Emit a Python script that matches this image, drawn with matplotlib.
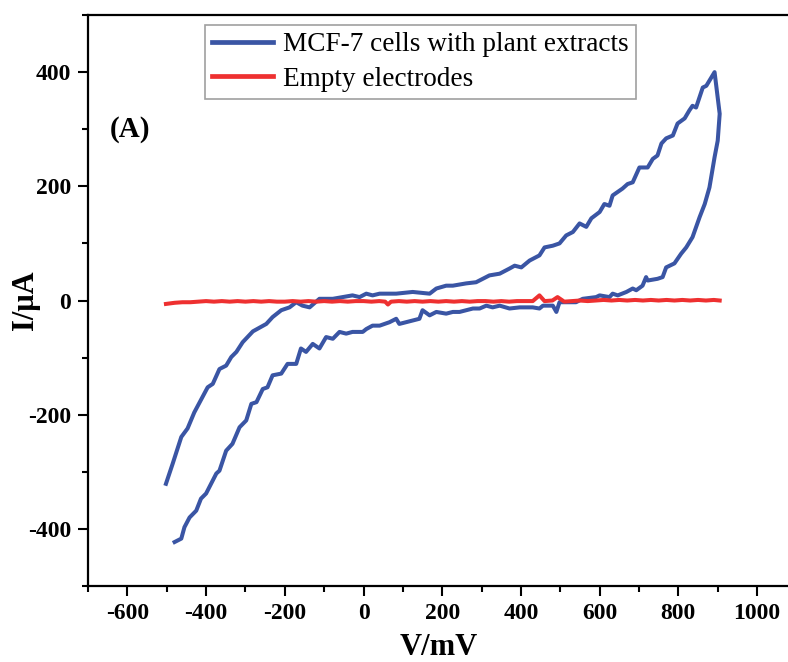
import matplotlib
matplotlib.use('Agg')
import matplotlib.pyplot as plt
from matplotlib.ticker import MultipleLocator

plt.rcParams['font.family'] = ['Liberation Serif', 'DejaVu Serif']
plt.rcParams['axes.unicode_minus'] = False

# cyclic voltammogram, MCF-7 cells with plant extracts (forward then reverse sweep)
cell_v = [-502, -485, -463, -447, -430, -409, -396, -383, -366, -349, -336, -323,
          -307, -281, -247, -231, -209, -188, -171, -155, -137, -112, -78, -53,
          -28, -10, 7, 23, 41, 83, 125, 168, 185, 210, 227, 261, 286, 320, 346,
          371, 384, 401, 422, 447, 460, 481, 498, 515, 532, 549, 566, 579, 600,
          612, 625, 633, 658, 671, 684, 701, 722, 735, 747, 757, 769, 786, 798,
          816, 828, 836, 845, 862, 871, 892,
          905, 900, 892, 879, 867, 854, 836, 820, 807, 790, 769, 760, 747, 722,
          718, 709, 693, 684, 668, 646, 633, 625, 600, 591, 557, 540, 498, 490,
          481, 456, 447, 430, 397, 371, 346, 328, 312, 295, 278, 261, 244, 227,
          210, 185, 168, 150, 142, 125, 108, 91, 83, 66, 41, 23, 7, -2, -28, -44,
          -61, -78, -95, -112, -129, -146, -159, -171, -193, -209, -231, -244,
          -256, -272, -285, -298, -315, -333, -349, -366, -374, -400, -413, -425,
          -442, -455, -463, -480]
cell_i = [-321, -286, -239, -224, -196, -169, -152, -146, -120, -114, -99, -90,
          -73, -54, -41, -29, -17, -12, -3, -9, -12, 3, 3, 6,
          9, 6, 12, 9, 12, 12, 15, 12, 21, 26, 26, 30, 32, 44, 47,
          56, 61, 58, 70, 79, 93, 96, 100, 114, 120, 135, 129, 144, 155,
          169, 166, 184, 196, 204, 207, 233, 233, 248, 254, 275, 284, 289, 310,
          319, 333, 341, 338, 373, 376, 400,
          327, 280, 251, 198, 169, 146, 111, 93, 82, 65, 58, 41, 38, 35,
          41, 26, 18, 21, 15, 9, 12, 6, 9, 6, 3, -3, -3, -20,
          -9, -9, -14, -12, -12, -14, -9, -12, -9, -14, -14, -17, -20, -20,
          -23, -20, -26, -17, -32, -35, -38, -41, -32, -38, -44, -44, -50, -55, -55, -58,
          -55, -67, -64, -84, -76, -90, -84, -111, -111, -128, -131, -152,
          -155, -178, -181, -210, -222, -251, -263, -298, -303, -338, -347, -368,
          -380, -397, -417, -423]

# empty electrodes
empty_v = [-502, -480, -460, -440, -420, -400, -380, -360, -340, -320, -300, -280,
           -260, -240, -220, -200, -180, -160, -140, -120, -100, -80, -60, -40,
           -20, 0, 20, 40, 55, 62, 70, 90, 110, 130, 150, 170, 190, 210, 230,
           250, 270, 290, 310, 330, 350, 370, 390, 410, 430, 447, 460, 480, 493,
           510, 530, 550, 570, 590, 610, 630, 650, 670, 690, 710, 730, 750, 770,
           790, 810, 830, 850, 870, 890, 905]
empty_i = [-6, -4, -3, -3, -2, -1, -2, -1, -2, -1, -2, -1,
           -2, -1, -2, -2, -1, -2, -1, -2, -1, -2, -1, -2,
           -1, -1, -2, -1, -2, -7, -2, -1, -2, -1, -2, -1, -2, -1, -2,
           -1, -2, -1, -1, -2, -1, -2, -1, -1, -1, 9, -1, 0, 6,
           -2, -1, 0, -1, 0, 1, 0, 1, 0, 1, 0, 1, 0, 1,
           0, 1, 0, 1, 0, 1, 0]

fig = plt.figure(figsize=(7.88, 6.62), dpi=100)
ax = fig.add_axes([0.1117, 0.1148, 0.899, 0.8625])

ax.plot(cell_v, cell_i, color='#3A55A4', lw=2.9, label='MCF-7 cells with plant extracts')
ax.plot(empty_v, empty_i, color='#EE3030', lw=2.9, label='Empty electrodes')

ax.set_xlim(-700, 1100)
ax.set_ylim(-500, 500)
ax.xaxis.set_major_locator(MultipleLocator(200))
ax.xaxis.set_minor_locator(MultipleLocator(100))
ax.yaxis.set_major_locator(MultipleLocator(200))
ax.yaxis.set_minor_locator(MultipleLocator(100))
ax.tick_params(which='both', direction='out', width=1.5, top=False, right=False)
ax.tick_params(which='major', length=7, labelsize=17, pad=5)
ax.tick_params(which='minor', length=4)
for lab in ax.get_xticklabels() + ax.get_yticklabels():
    lab.set_fontweight('bold')
for s in ax.spines.values():
    s.set_linewidth(1.6)

ax.set_xlabel('V/mV', fontsize=22, fontweight='bold')
ax.set_ylabel('I/\u03bcA', fontsize=22, fontweight='bold')
ax.xaxis.set_label_coords(0.495, -0.082)
ax.yaxis.set_label_coords(-0.068, 0.5)

ax.text(0.03, 0.799, '(A)', transform=ax.transAxes, fontsize=21, fontweight='bold',
        va='center', ha='left')

leg = ax.legend(loc='upper left', bbox_to_anchor=(205 / 788, 1 - 25 / 662),
                bbox_transform=fig.transFigure, fontsize=19.6, frameon=True,
                fancybox=False, edgecolor='#888888', handlelength=2.25,
                handletextpad=0.35, labelspacing=0.36, borderpad=0.26,
                borderaxespad=0)
leg.get_frame().set_linewidth(1.2)
for ln in leg.get_lines():
    ln.set_linewidth(3.4)

fig.savefig('out.png', dpi=100)
